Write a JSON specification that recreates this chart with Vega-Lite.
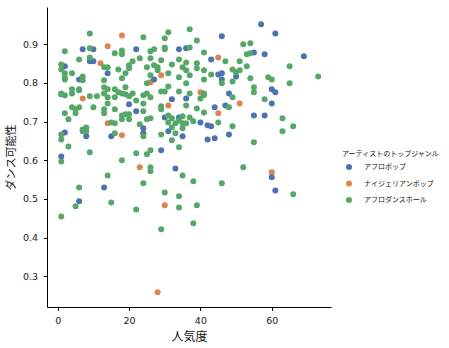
{
  "$schema": "https://vega.github.io/schema/vega-lite/v6.json",
  "width": 284,
  "height": 300,
  "autosize": {"type": "none"},
  "padding": {"left": 47, "top": 7, "right": 118, "bottom": 41},
  "background": "white",
  "config": {
    "view": {"stroke": null},
    "axis": {
      "domainColor": "#000", "domainWidth": 1, "tickColor": "#000", "tickSize": 3.5, "tickWidth": 1,
      "labelFont": "DejaVu Sans", "labelFontSize": 9.5, "labelColor": "#222", "grid": false,
      "titleFont": "Noto Sans CJK JP", "titleColor": "#111", "titleFontWeight": "normal"
    }
  },
  "data": {"values": [
    {"p":18,"d":0.923,"g":"ナイジェリアンポップ"},{"p":14,"d":0.895,"g":"ナイジェリアンポップ"},{"p":12,"d":0.851,"g":"ナイジェリアンポップ"},{"p":26,"d":0.802,"g":"ナイジェリアンポップ"},{"p":45,"d":0.866,"g":"ナイジェリアンポップ"},{"p":29,"d":0.820,"g":"ナイジェリアンポップ"},{"p":40,"d":0.776,"g":"ナイジェリアンポップ"},{"p":7,"d":0.760,"g":"ナイジェリアンポップ"},{"p":14,"d":0.696,"g":"ナイジェリアンポップ"},{"p":18,"d":0.665,"g":"ナイジェリアンポップ"},{"p":23,"d":0.582,"g":"ナイジェリアンポップ"},{"p":31,"d":0.742,"g":"ナイジェリアンポップ"},{"p":45,"d":0.722,"g":"ナイジェリアンポップ"},{"p":51,"d":0.747,"g":"ナイジェリアンポップ"},{"p":60,"d":0.569,"g":"ナイジェリアンポップ"},{"p":30,"d":0.484,"g":"ナイジェリアンポップ"},{"p":28,"d":0.259,"g":"ナイジェリアンポップ"},
    {"p":7,"d":0.887,"g":"アフロポップ"},{"p":10,"d":0.887,"g":"アフロポップ"},{"p":22,"d":0.887,"g":"アフロポップ"},{"p":34,"d":0.887,"g":"アフロポップ"},{"p":36,"d":0.890,"g":"アフロポップ"},{"p":46,"d":0.921,"g":"アフロポップ"},{"p":57,"d":0.952,"g":"アフロポップ"},{"p":61,"d":0.928,"g":"アフロポップ"},{"p":55,"d":0.879,"g":"アフロポップ"},{"p":58,"d":0.874,"g":"アフロポップ"},{"p":69,"d":0.869,"g":"アフロポップ"},{"p":9,"d":0.856,"g":"アフロポップ"},{"p":10,"d":0.856,"g":"アフロポップ"},{"p":2,"d":0.843,"g":"アフロポップ"},{"p":14,"d":0.825,"g":"アフロポップ"},{"p":6,"d":0.809,"g":"アフロポップ"},{"p":43,"d":0.861,"g":"アフロポップ"},{"p":45,"d":0.822,"g":"アフロポップ"},{"p":46,"d":0.825,"g":"アフロポップ"},{"p":46,"d":0.809,"g":"アフロポップ"},{"p":27,"d":0.809,"g":"アフロポップ"},{"p":48,"d":0.773,"g":"アフロポップ"},{"p":50,"d":0.817,"g":"アフロポップ"},{"p":60,"d":0.784,"g":"アフロポップ"},{"p":61,"d":0.776,"g":"アフロポップ"},{"p":1,"d":0.771,"g":"アフロポップ"},{"p":20,"d":0.745,"g":"アフロポップ"},{"p":22,"d":0.727,"g":"アフロポップ"},{"p":24,"d":0.683,"g":"アフロポップ"},{"p":24,"d":0.670,"g":"アフロポップ"},{"p":8,"d":0.662,"g":"アフロポップ"},{"p":2,"d":0.672,"g":"アフロポップ"},{"p":15,"d":0.662,"g":"アフロポップ"},{"p":1,"d":0.610,"g":"アフロポップ"},{"p":32,"d":0.758,"g":"アフロポップ"},{"p":36,"d":0.760,"g":"アフロポップ"},{"p":44,"d":0.737,"g":"アフロポップ"},{"p":47,"d":0.742,"g":"アフロポップ"},{"p":30,"d":0.711,"g":"アフロポップ"},{"p":34,"d":0.711,"g":"アフロポップ"},{"p":40,"d":0.698,"g":"アフロポップ"},{"p":42,"d":0.691,"g":"アフロポップ"},{"p":43,"d":0.688,"g":"アフロポップ"},{"p":31,"d":0.675,"g":"アフロポップ"},{"p":35,"d":0.662,"g":"アフロポップ"},{"p":42,"d":0.654,"g":"アフロポップ"},{"p":44,"d":0.657,"g":"アフロポップ"},{"p":48,"d":0.667,"g":"アフロポップ"},{"p":29,"d":0.626,"g":"アフロポップ"},{"p":33,"d":0.579,"g":"アフロポップ"},{"p":60,"d":0.747,"g":"アフロポップ"},{"p":55,"d":0.716,"g":"アフロポップ"},{"p":58,"d":0.716,"g":"アフロポップ"},{"p":60,"d":0.556,"g":"アフロポップ"},{"p":61,"d":0.522,"g":"アフロポップ"},{"p":13,"d":0.530,"g":"アフロポップ"},{"p":6,"d":0.494,"g":"アフロポップ"},
    {"p":9,"d":0.928,"g":"アフロダンスホール"},{"p":24,"d":0.918,"g":"アフロダンスホール"},{"p":37,"d":0.939,"g":"アフロダンスホール"},{"p":31,"d":0.931,"g":"アフロダンスホール"},{"p":30,"d":0.916,"g":"アフロダンスホール"},{"p":39,"d":0.910,"g":"アフロダンスホール"},{"p":52,"d":0.900,"g":"アフロダンスホール"},{"p":54,"d":0.903,"g":"アフロダンスホール"},{"p":9,"d":0.890,"g":"アフロダンスホール"},{"p":2,"d":0.882,"g":"アフロダンスホール"},{"p":27,"d":0.887,"g":"アフロダンスホール"},{"p":26,"d":0.882,"g":"アフロダンスホール"},{"p":30,"d":0.887,"g":"アフロダンスホール"},{"p":30,"d":0.892,"g":"アフロダンスホール"},{"p":37,"d":0.892,"g":"アフロダンスホール"},{"p":41,"d":0.879,"g":"アフロダンスホール"},{"p":16,"d":0.877,"g":"アフロダンスホール"},{"p":18,"d":0.884,"g":"アフロダンスホール"},{"p":18,"d":0.874,"g":"アフロダンスホール"},{"p":53,"d":0.874,"g":"アフロダンスホール"},{"p":54,"d":0.877,"g":"アフロダンスホール"},{"p":23,"d":0.864,"g":"アフロダンスホール"},{"p":9,"d":0.866,"g":"アフロダンスホール"},{"p":6,"d":0.861,"g":"アフロダンスホール"},{"p":21,"d":0.856,"g":"アフロダンスホール"},{"p":26,"d":0.864,"g":"アフロダンスホール"},{"p":29,"d":0.859,"g":"アフロダンスホール"},{"p":34,"d":0.861,"g":"アフロダンスホール"},{"p":36,"d":0.853,"g":"アフロダンスホール"},{"p":47,"d":0.856,"g":"アフロダンスホール"},{"p":51,"d":0.856,"g":"アフロダンスホール"},{"p":13,"d":0.841,"g":"アフロダンスホール"},{"p":14,"d":0.841,"g":"アフロダンスホール"},{"p":1,"d":0.848,"g":"アフロダンスホール"},{"p":1,"d":0.835,"g":"アフロダンスホール"},{"p":2,"d":0.825,"g":"アフロダンスホール"},{"p":17,"d":0.835,"g":"アフロダンスホール"},{"p":20,"d":0.838,"g":"アフロダンスホール"},{"p":20,"d":0.846,"g":"アフロダンスホール"},{"p":19,"d":0.825,"g":"アフロダンスホール"},{"p":4,"d":0.825,"g":"アフロダンスホール"},{"p":2,"d":0.815,"g":"アフロダンスホール"},{"p":2,"d":0.809,"g":"アフロダンスホール"},{"p":7,"d":0.817,"g":"アフロダンスホール"},{"p":7,"d":0.807,"g":"アフロダンスホール"},{"p":13,"d":0.807,"g":"アフロダンスホール"},{"p":18,"d":0.812,"g":"アフロダンスホール"},{"p":25,"d":0.799,"g":"アフロダンスホール"},{"p":25,"d":0.841,"g":"アフロダンスホール"},{"p":27,"d":0.846,"g":"アフロダンスホール"},{"p":28,"d":0.841,"g":"アフロダンスホール"},{"p":28,"d":0.833,"g":"アフロダンスホール"},{"p":32,"d":0.848,"g":"アフロダンスホール"},{"p":35,"d":0.841,"g":"アフロダンスホール"},{"p":36,"d":0.833,"g":"アフロダンスホール"},{"p":39,"d":0.851,"g":"アフロダンスホール"},{"p":39,"d":0.838,"g":"アフロダンスホール"},{"p":41,"d":0.833,"g":"アフロダンスホール"},{"p":31,"d":0.825,"g":"アフロダンスホール"},{"p":49,"d":0.835,"g":"アフロダンスホール"},{"p":51,"d":0.833,"g":"アフロダンスホール"},{"p":50,"d":0.828,"g":"アフロダンスホール"},{"p":53,"d":0.843,"g":"アフロダンスホール"},{"p":65,"d":0.843,"g":"アフロダンスホール"},{"p":43,"d":0.822,"g":"アフロダンスホール"},{"p":41,"d":0.809,"g":"アフロダンスホール"},{"p":37,"d":0.820,"g":"アフロダンスホール"},{"p":34,"d":0.815,"g":"アフロダンスホール"},{"p":26,"d":0.820,"g":"アフロダンスホール"},{"p":49,"d":0.804,"g":"アフロダンスホール"},{"p":54,"d":0.812,"g":"アフロダンスホール"},{"p":59,"d":0.815,"g":"アフロダンスホール"},{"p":60,"d":0.809,"g":"アフロダンスホール"},{"p":73,"d":0.817,"g":"アフロダンスホール"},{"p":65,"d":0.799,"g":"アフロダンスホール"},{"p":36,"d":0.799,"g":"アフロダンスホール"},{"p":46,"d":0.799,"g":"アフロダンスホール"},{"p":19,"d":0.789,"g":"アフロダンスホール"},{"p":13,"d":0.789,"g":"アフロダンスホール"},{"p":14,"d":0.784,"g":"アフロダンスホール"},{"p":16,"d":0.784,"g":"アフロダンスホール"},{"p":4,"d":0.784,"g":"アフロダンスホール"},{"p":6,"d":0.784,"g":"アフロダンスホール"},{"p":31,"d":0.791,"g":"アフロダンスホール"},{"p":55,"d":0.789,"g":"アフロダンスホール"},{"p":55,"d":0.776,"g":"アフロダンスホール"},{"p":29,"d":0.778,"g":"アフロダンスホール"},{"p":30,"d":0.778,"g":"アフロダンスホール"},{"p":34,"d":0.778,"g":"アフロダンスホール"},{"p":37,"d":0.773,"g":"アフロダンスホール"},{"p":25,"d":0.773,"g":"アフロダンスホール"},{"p":41,"d":0.773,"g":"アフロダンスホール"},{"p":1,"d":0.773,"g":"アフロダンスホール"},{"p":2,"d":0.768,"g":"アフロダンスホール"},{"p":4,"d":0.773,"g":"アフロダンスホール"},{"p":6,"d":0.781,"g":"アフロダンスホール"},{"p":9,"d":0.766,"g":"アフロダンスホール"},{"p":11,"d":0.766,"g":"アフロダンスホール"},{"p":13,"d":0.773,"g":"アフロダンスホール"},{"p":14,"d":0.763,"g":"アフロダンスホール"},{"p":16,"d":0.763,"g":"アフロダンスホール"},{"p":17,"d":0.776,"g":"アフロダンスホール"},{"p":18,"d":0.773,"g":"アフロダンスホール"},{"p":19,"d":0.771,"g":"アフロダンスホール"},{"p":20,"d":0.766,"g":"アフロダンスホール"},{"p":21,"d":0.773,"g":"アフロダンスホール"},{"p":22,"d":0.755,"g":"アフロダンスホール"},{"p":24,"d":0.747,"g":"アフロダンスホール"},{"p":24,"d":0.768,"g":"アフロダンスホール"},{"p":26,"d":0.763,"g":"アフロダンスホール"},{"p":41,"d":0.768,"g":"アフロダンスホール"},{"p":40,"d":0.760,"g":"アフロダンスホール"},{"p":49,"d":0.763,"g":"アフロダンスホール"},{"p":58,"d":0.758,"g":"アフロダンスホール"},
    {"p":14,"d":0.747,"g":"アフロダンスホール"},{"p":13,"d":0.732,"g":"アフロダンスホール"},{"p":10,"d":0.737,"g":"アフロダンスホール"},{"p":4,"d":0.737,"g":"アフロダンスホール"},{"p":5,"d":0.732,"g":"アフロダンスホール"},{"p":6,"d":0.737,"g":"アフロダンスホール"},{"p":2,"d":0.722,"g":"アフロダンスホール"},{"p":5,"d":0.722,"g":"アフロダンスホール"},{"p":3,"d":0.706,"g":"アフロダンスホール"},{"p":13,"d":0.722,"g":"アフロダンスホール"},{"p":16,"d":0.732,"g":"アフロダンスホール"},{"p":18,"d":0.716,"g":"アフロダンスホール"},{"p":19,"d":0.719,"g":"アフロダンスホール"},{"p":20,"d":0.719,"g":"アフロダンスホール"},{"p":20,"d":0.706,"g":"アフロダンスホール"},{"p":18,"d":0.706,"g":"アフロダンスホール"},{"p":16,"d":0.696,"g":"アフロダンスホール"},{"p":15,"d":0.698,"g":"アフロダンスホール"},{"p":23,"d":0.693,"g":"アフロダンスホール"},{"p":7,"d":0.680,"g":"アフロダンスホール"},{"p":8,"d":0.685,"g":"アフロダンスホール"},{"p":8,"d":0.675,"g":"アフロダンスホール"},{"p":7,"d":0.675,"g":"アフロダンスホール"},{"p":1,"d":0.667,"g":"アフロダンスホール"},{"p":1,"d":0.654,"g":"アフロダンスホール"},{"p":16,"d":0.670,"g":"アフロダンスホール"},{"p":24,"d":0.662,"g":"アフロダンスホール"},{"p":3,"d":0.636,"g":"アフロダンスホール"},{"p":9,"d":0.621,"g":"アフロダンスホール"},{"p":22,"d":0.618,"g":"アフロダンスホール"},{"p":1,"d":0.597,"g":"アフロダンスホール"},{"p":18,"d":0.600,"g":"アフロダンスホール"},{"p":14,"d":0.561,"g":"アフロダンスホール"},{"p":24,"d":0.727,"g":"アフロダンスホール"},{"p":29,"d":0.740,"g":"アフロダンスホール"},{"p":29,"d":0.732,"g":"アフロダンスホール"},{"p":36,"d":0.742,"g":"アフロダンスホール"},{"p":39,"d":0.734,"g":"アフロダンスホール"},{"p":41,"d":0.724,"g":"アフロダンスホール"},{"p":48,"d":0.737,"g":"アフロダンスホール"},{"p":26,"d":0.709,"g":"アフロダンスホール"},{"p":25,"d":0.706,"g":"アフロダンスホール"},{"p":31,"d":0.716,"g":"アフロダンスホール"},{"p":31,"d":0.698,"g":"アフロダンスホール"},{"p":32,"d":0.709,"g":"アフロダンスホール"},{"p":34,"d":0.703,"g":"アフロダンスホール"},{"p":35,"d":0.714,"g":"アフロダンスホール"},{"p":37,"d":0.711,"g":"アフロダンスホール"},{"p":38,"d":0.701,"g":"アフロダンスホール"},{"p":36,"d":0.696,"g":"アフロダンスホール"},{"p":35,"d":0.696,"g":"アフロダンスホール"},{"p":33,"d":0.696,"g":"アフロダンスホール"},{"p":32,"d":0.685,"g":"アフロダンスホール"},{"p":35,"d":0.683,"g":"アフロダンスホール"},{"p":33,"d":0.670,"g":"アフロダンスホール"},{"p":45,"d":0.698,"g":"アフロダンスホール"},{"p":29,"d":0.667,"g":"アフロダンスホール"},{"p":32,"d":0.652,"g":"アフロダンスホール"},{"p":49,"d":0.688,"g":"アフロダンスホール"},{"p":34,"d":0.634,"g":"アフロダンスホール"},{"p":26,"d":0.626,"g":"アフロダンスホール"},{"p":25,"d":0.616,"g":"アフロダンスホール"},{"p":26,"d":0.582,"g":"アフロダンスホール"},{"p":26,"d":0.572,"g":"アフロダンスホール"},{"p":35,"d":0.561,"g":"アフロダンスホール"},{"p":38,"d":0.546,"g":"アフロダンスホール"},{"p":24,"d":0.541,"g":"アフロダンスホール"},{"p":46,"d":0.541,"g":"アフロダンスホール"},{"p":63,"d":0.709,"g":"アフロダンスホール"},{"p":66,"d":0.688,"g":"アフロダンスホール"},{"p":63,"d":0.675,"g":"アフロダンスホール"},{"p":55,"d":0.647,"g":"アフロダンスホール"},{"p":52,"d":0.582,"g":"アフロダンスホール"},
    {"p":30,"d":0.517,"g":"アフロダンスホール"},{"p":34,"d":0.507,"g":"アフロダンスホール"},{"p":34,"d":0.478,"g":"アフロダンスホール"},{"p":39,"d":0.484,"g":"アフロダンスホール"},{"p":29,"d":0.422,"g":"アフロダンスホール"},{"p":38,"d":0.437,"g":"アフロダンスホール"},{"p":66,"d":0.512,"g":"アフロダンスホール"},{"p":6,"d":0.530,"g":"アフロダンスホール"},{"p":15,"d":0.491,"g":"アフロダンスホール"},{"p":5,"d":0.481,"g":"アフロダンスホール"},{"p":1,"d":0.455,"g":"アフロダンスホール"},{"p":22,"d":0.473,"g":"アフロダンスホール"}
  ]},
  "mark": {"type": "circle", "size": 36, "opacity": 1},
  "encoding": {
    "x": {
      "field": "p", "type": "quantitative", "title": "人気度",
      "scale": {"domain": [-3, 76.6], "nice": false, "zero": false},
      "axis": {"values": [0, 20, 40, 60], "labelPadding": 5, "titleFontSize": 12, "titlePadding": 6}
    },
    "y": {
      "field": "d", "type": "quantitative", "title": "ダンス可能性",
      "scale": {"domain": [0.2207, 0.9965], "nice": false, "zero": false},
      "axis": {"values": [0.3, 0.4, 0.5, 0.6, 0.7, 0.8, 0.9], "format": ".1f", "labelPadding": 6, "titleFontSize": 11, "titlePadding": 6}
    },
    "color": {
      "field": "g", "type": "nominal",
      "scale": {"domain": ["アフロポップ", "ナイジェリアンポップ", "アフロダンスホール"], "range": ["#4c72b0", "#dd8452", "#55a868"]},
      "legend": {
        "title": "アーティストのトップジャンル", "orient": "none", "legendX": 295, "legendY": 143,
        "titleFont": "Noto Sans CJK JP", "titleFontSize": 7, "titleFontWeight": "normal", "titleColor": "#111", "titlePadding": 6,
        "labelFont": "Noto Sans CJK JP", "labelFontSize": 7, "labelColor": "#111", "labelOffset": 11,
        "symbolType": "circle", "symbolSize": 36, "symbolOpacity": 1, "symbolOffset": 3, "rowPadding": 9.5
      }
    }
  }
}
